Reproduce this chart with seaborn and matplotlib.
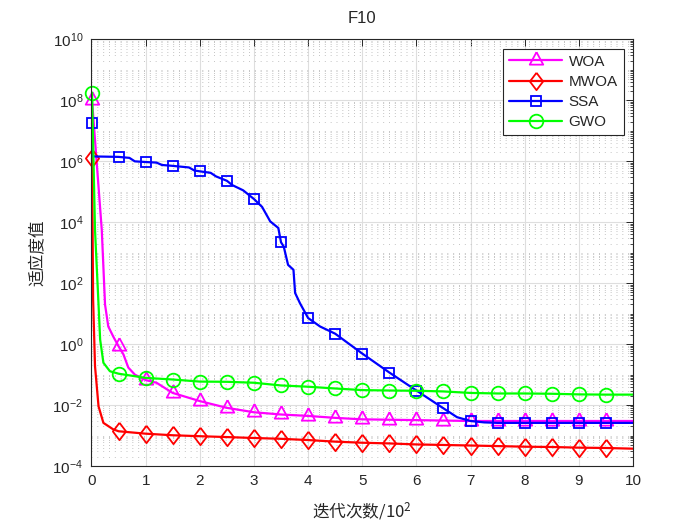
import numpy as np
import matplotlib
matplotlib.use("Agg")
import matplotlib.pyplot as plt
import seaborn as sns
from matplotlib.ticker import LogLocator, NullFormatter, LogFormatterSciNotation

# ---------------- data ----------------
series_names = ["WOA", "MWOA", "SSA", "GWO"]
series_colors = ["#ff00ff", "#ff0000", "#0000ff", "#00ff00"]

woa_x = [0.01, 0.19, 0.25, 0.31, 0.40, 0.50, 0.59, 0.68, 0.80, 1.0, 1.2, 1.5, 2.0, 2.5,
         3.0, 3.5, 4.0, 4.5, 5.0, 5.5, 6.0, 6.5, 7.0, 7.5, 8.0, 8.5, 9.0, 9.5, 10.0]
woa_y = [1.0e8, 5.6e3, 20, 3.8, 1.8, 0.85, 0.46, 0.17, 0.10, 0.066, 0.054, 0.025, 0.0135,
         0.0081, 0.0058, 0.0049, 0.0044, 0.0038, 0.0034, 0.0033, 0.0032, 0.0031, 0.0030,
         0.0030, 0.0030, 0.0030, 0.0030, 0.0030, 0.0030]

mwoa_x = [0.01, 0.03, 0.065, 0.13, 0.22, 0.40, 0.5, 1.0, 1.5, 2.0, 2.5, 3.0, 3.5, 4.0, 4.5,
          5.0, 5.5, 6.0, 6.5, 7.0, 7.5, 8.0, 8.5, 9.0, 9.5, 10.0]
mwoa_y = [1.3e6, 29, 0.19, 0.0091, 0.0026, 0.0016, 0.00138, 0.00115, 0.00102, 0.00095,
          0.00089, 0.00083, 0.00078, 0.00071, 0.00063, 0.00058, 0.00055, 0.00051, 0.00049,
          0.00047, 0.00045, 0.00043, 0.00042, 0.00040, 0.00039, 0.00037]

ssa_x = [0.01, 0.03, 0.5, 0.7, 0.8, 1.0, 1.2, 1.3, 1.5, 1.8, 1.9, 2.0, 2.2, 2.3, 2.5, 2.6,
         2.8, 3.0, 3.15, 3.3, 3.45, 3.5, 3.55, 3.63, 3.73, 3.76, 3.85, 4.0, 4.22, 4.5, 5.0,
         5.5, 6.0, 6.5, 6.75, 7.0, 7.25, 7.5, 8.0, 8.5, 9.0, 9.5, 10.0]
ssa_y = [1.8e7, 1.45e6, 1.4e6, 1.3e6, 1.0e6, 9.5e5, 9.1e5, 7.6e5, 7.1e5, 6.3e5, 5.0e5,
         4.7e5, 4.2e5, 3.2e5, 2.3e5, 1.66e5, 1.12e5, 5.8e4, 3.2e4, 1.07e4, 6.5e3, 2.2e3,
         1.6e3, 400, 275, 48, 22, 7.2, 3.8, 2.2, 0.49, 0.117, 0.030, 0.0078, 0.0040, 0.0030,
         0.0027, 0.0026, 0.0026, 0.0026, 0.0026, 0.0026, 0.0026]

gwo_x = [0.01, 0.065, 0.13, 0.16, 0.22, 0.34, 0.5, 1.0, 1.5, 2.0, 2.5, 3.0, 3.5, 4.0, 4.5,
         5.0, 5.5, 6.0, 6.5, 7.0, 7.5, 8.0, 8.5, 9.0, 9.5, 10.0]
gwo_y = [1.8e8, 5.6e3, 20, 1.4, 0.245, 0.129, 0.107, 0.078, 0.069, 0.059, 0.058, 0.054,
         0.044, 0.040, 0.035, 0.031, 0.030, 0.0295, 0.028, 0.025, 0.024, 0.024, 0.0235,
         0.0224, 0.022, 0.022]

marker_x = [0.01, 0.5, 1.0, 1.5, 2.0, 2.5, 3.0, 3.5, 4.0, 4.5, 5.0, 5.5, 6.0, 6.5, 7.0,
            7.5, 8.0, 8.5, 9.0, 9.5]

x_ticks = [0, 1, 2, 3, 4, 5, 6, 7, 8, 9, 10]
y_ticks = [1e-4, 1e-2, 1e0, 1e2, 1e4, 1e6, 1e8, 1e10]

title_text = "F10"
xlabel_text = "迭代次数/$\\mathdefault{10^{2}}$"
ylabel_text = "适应度值"

# ---------------- style ----------------
sns.set_theme(style="white")
plt.rcParams["font.family"] = ["Liberation Sans", "Noto Sans CJK SC", "DejaVu Sans"]
plt.rcParams["axes.unicode_minus"] = False

tri = [(0, 0.667), (-0.54, -0.333), (0.54, -0.333), (0, 0.667)]
dia = [(0, 1), (-0.76, 0), (0, -1), (0.76, 0), (0, 1)]
series_markers = [tri, dia, "s", "o"]
series_msize = [12, 12.5, 7.5, 9.8]

fig = plt.figure(figsize=(7, 5.25), dpi=100)
fig.patch.set_facecolor("white")
ax = fig.add_axes([0.1307, 0.1124, 0.7736, 0.8124])
ax.set_facecolor("white")

data = [(woa_x, woa_y), (mwoa_x, mwoa_y), (ssa_x, ssa_y), (gwo_x, gwo_y)]
for (xs, ys), name, col, mk, ms in zip(data, series_names, series_colors,
                                       series_markers, series_msize):
    idx = [i for i, v in enumerate(xs) if np.any(np.isclose(v, marker_x))]
    sns.lineplot(x=xs, y=ys, ax=ax, color=col, marker=mk, markersize=ms,
                 markevery=idx, markerfacecolor="none", markeredgecolor=col,
                 markeredgewidth=1.3, linewidth=1.6, label=name,
                 estimator=None, sort=False, errorbar=None, clip_on=False)

ax.set_yscale("log")
ax.set_xlim(0, 10)
ax.set_ylim(1e-4, 1e10)
ax.set_xticks(x_ticks)
ax.set_yticks(y_ticks)
ax.yaxis.set_major_formatter(LogFormatterSciNotation())
ax.yaxis.set_minor_locator(LogLocator(base=10, subs=np.arange(1, 10), numticks=200))
ax.yaxis.set_minor_formatter(NullFormatter())

ax.tick_params(which="both", direction="in", top=True, right=True,
               colors="#262626", labelsize=11)
ax.tick_params(which="major", length=5, width=0.7, pad=6)
ax.tick_params(which="minor", length=2.5, width=0.6)

ax.set_axisbelow(True)
ax.grid(True, which="major", color="#dedede", linewidth=0.8, linestyle="-")
ax.yaxis.grid(True, which="minor", color="#c4c4c4", linewidth=0.7, linestyle=(0, (1, 5)))

for sp in ax.spines.values():
    sp.set_color("#262626")
    sp.set_linewidth(0.8)
    sp.set_visible(True)

ax.set_title(title_text, fontsize=12, color="#262626", pad=12)
ax.set_xlabel(xlabel_text, fontsize=12, color="#262626",
              family=["Noto Sans CJK SC"], labelpad=9)
ax.set_ylabel(ylabel_text, fontsize=12, color="#262626", labelpad=5)

leg = ax.legend(loc="upper right", fontsize=11, frameon=True, fancybox=False,
                edgecolor="#262626", framealpha=1, handlelength=3.5,
                labelspacing=0.4, borderaxespad=0.6, borderpad=0.4,
                handletextpad=0.4)
leg.get_frame().set_linewidth(0.8)

fig.savefig("out.png", dpi=100, facecolor="white")
